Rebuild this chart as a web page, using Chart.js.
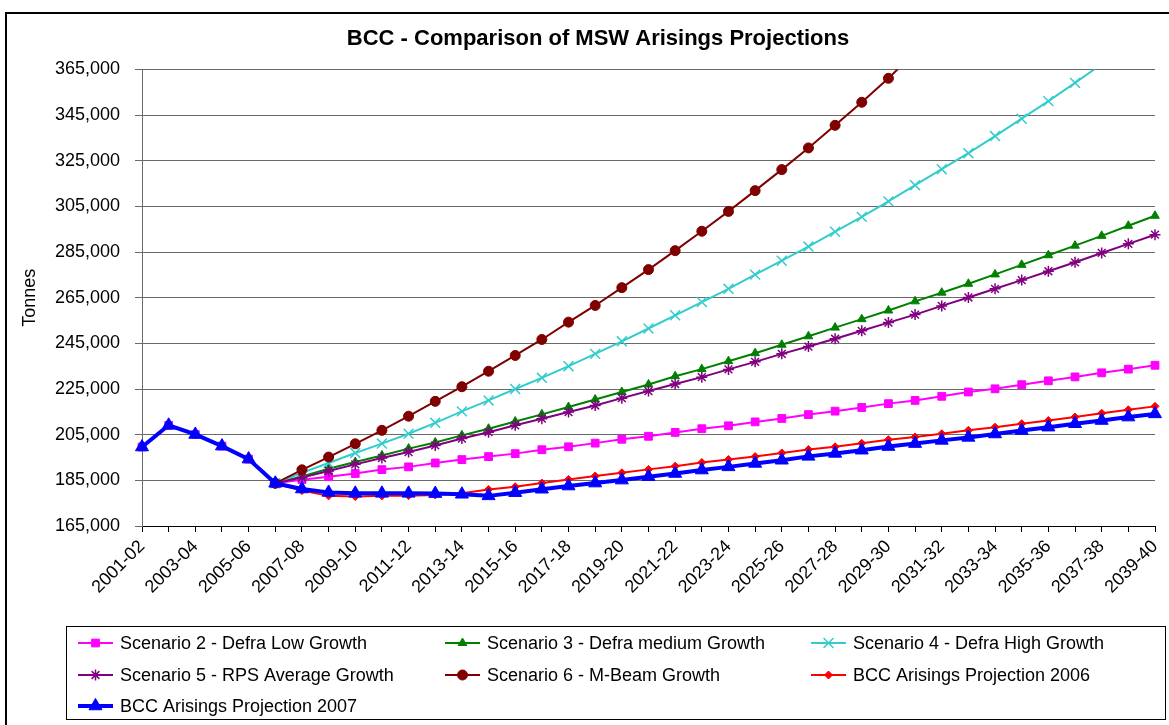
<!DOCTYPE html>
<html>
<head>
<meta charset="utf-8">
<title>BCC - Comparison of MSW Arisings Projections</title>
<script src="https://cdn.jsdelivr.net/npm/chart.js@4.4.1/dist/chart.umd.min.js"></script>
<style>
  html, body { margin: 0; padding: 0; background: #fff; }
  canvas { display: block; }
</style>
</head>
<body>
<canvas id="msw" width="1169" height="725"></canvas>
<script>
// financial years on the category axis
const years = [
  '2001-02', '2002-03', '2003-04', '2004-05', '2005-06', '2006-07', '2007-08', '2008-09',
  '2009-10', '2010-11', '2011-12', '2012-13', '2013-14', '2014-15', '2015-16', '2016-17',
  '2017-18', '2018-19', '2019-20', '2020-21', '2021-22', '2022-23', '2023-24', '2024-25',
  '2025-26', '2026-27', '2027-28', '2028-29', '2029-30', '2030-31', '2031-32', '2032-33',
  '2033-34', '2034-35', '2035-36', '2036-37', '2037-38', '2038-39', '2039-40'
];

// tonnes
const scen2Low = [
  199600, 209100, 205100, 200000, 194300, 183700, 185300, 186600, 188000, 189700,
  190900, 192600, 194100, 195400, 196700, 198400, 199700, 201300, 203000, 204300,
  206000, 207600, 208900, 210600, 212100, 213800, 215300, 216900, 218600, 220000,
  221800, 223700, 225100, 226900, 228600, 230300, 232100, 233700, 235400
];
const scen3Medium = [
  null, null, null, null, null, 183700, 186700, 190100, 193000, 195900,
  198900, 201600, 204700, 207600, 210800, 213900, 217100, 220400, 223700, 227000,
  230600, 233700, 237200, 240700, 244400, 248100, 251900, 255600, 259400, 263400,
  267200, 271100, 275200, 279400, 283600, 287800, 292100, 296500, 300900
];
const scen4High = [
  null, null, null, null, null, 183700, 188300, 192600, 197000, 201100,
  205400, 210200, 215200, 220000, 225000, 229900, 235000, 240400, 245900, 251500,
  257300, 263100, 268900, 275100, 281200, 287400, 293900, 300400, 307200, 314300,
  321300, 328300, 335800, 343400, 351100, 359100, 367300, null, null
];
const scen5Rps = [
  null, null, null, null, null, 183700, 186200, 189100, 192000, 194800,
  197400, 200300, 203300, 206100, 209100, 212000, 214900, 217800, 221000, 224100,
  227200, 230200, 233600, 236900, 240400, 243600, 247000, 250500, 254100, 257600,
  261400, 265100, 268900, 272700, 276600, 280500, 284600, 288600, 292600
];
const scen6MBeam = [
  null, null, null, null, null, 183700, 189600, 195200, 201000, 206900,
  213100, 219600, 226000, 232800, 239700, 246700, 254300, 261600, 269400, 277300,
  285600, 294100, 302800, 311900, 321100, 330600, 340500, 350600, 361100, 372500,
  null, null, null, null, null, null, null, null, null
];
const bcc2006 = [
  199600, 209100, 205100, 200000, 194300, 183700, 180500, 178200, 177900, 178200,
  178300, 178600, 179300, 181000, 182200, 183800, 185400, 186900, 188300, 189800,
  191200, 192800, 194100, 195400, 197000, 198500, 199700, 201200, 202800, 204000,
  205400, 206900, 208300, 209800, 211200, 212700, 214400, 215900, 217400
];
const bcc2007 = [
  199600, 209100, 205100, 200000, 194300, 183700, 181200, 179700, 179300, 179300,
  179300, 179200, 178900, 178200, 179600, 181100, 182500, 183800, 185100, 186600,
  188000, 189500, 190900, 192400, 193800, 195500, 196800, 198200, 199800, 201100,
  202500, 203800, 205300, 206800, 208300, 209800, 211200, 212700, 214100
];

const yMin = 165000;
const yMax = 365000;
const yStep = 20000;

const FONT = "'Liberation Sans', Arial, Helvetica, sans-serif";
Chart.defaults.font.family = FONT;
Chart.defaults.font.size = 18;
Chart.defaults.color = '#000';

function series(label, data, color, style, radius, width, order) {
  const strokeOnly = style === 'crossRot' || style === 'star';
  return {
    label,
    data,
    borderColor: color,
    backgroundColor: color,
    borderWidth: width,
    pointStyle: style,
    pointRadius: radius,
    pointHoverRadius: radius,
    pointBackgroundColor: color,
    pointBorderColor: color,
    pointBorderWidth: strokeOnly ? 1.5 : 1,
    tension: 0,
    spanGaps: false,
    order
  };
}

const datasets = [
  series('Scenario 2 - Defra Low Growth', scen2Low, '#FF00FF', 'rect', 5.5, 2, 7),
  series('Scenario 3 - Defra medium Growth', scen3Medium, '#008000', 'triangle', 5, 2, 6),
  series('Scenario 4 - Defra High Growth', scen4High, '#33CCCC', 'crossRot', 7, 2, 5),
  series('Scenario 5 - RPS Average Growth', scen5Rps, '#800080', 'star', 5.5, 2, 4),
  series('Scenario 6 - M-Beam Growth', scen6MBeam, '#800000', 'circle', 5, 2, 3),
  series('BCC Arisings Projection 2006', bcc2006, '#FF0000', 'rectRot', 4, 2, 2),
  series('BCC Arisings Projection 2007', bcc2007, '#0000FF', 'triangle', 7.5, 4, 1)
];

// white page plus the outer black frame
const framePlugin = {
  id: 'frame',
  beforeDraw(chart) {
    const ctx = chart.ctx;
    ctx.save();
    ctx.fillStyle = '#fff';
    ctx.fillRect(0, 0, chart.width, chart.height);
    ctx.strokeStyle = '#000';
    ctx.lineWidth = 2;
    ctx.strokeRect(6, 13, chart.width + 40, chart.height + 40);
    ctx.restore();
  }
};

// Excel style legend: boxed, three aligned columns
const legendSlots = [[78, 643], [445, 643], [811, 643], [78, 675], [445, 675], [811, 675], [78, 706]];

function marker(ctx, ds, x, y) {
  ctx.fillStyle = ds.pointBackgroundColor;
  ctx.strokeStyle = ds.pointBorderColor;
  ctx.lineWidth = ds.pointBorderWidth;
  if (Chart.helpers && Chart.helpers.drawPoint) {
    Chart.helpers.drawPoint(ctx, {
      pointStyle: ds.pointStyle,
      radius: ds.pointRadius,
      rotation: 0,
      borderWidth: ds.pointBorderWidth
    }, x, y);
  } else {
    ctx.beginPath();
    ctx.arc(x, y, ds.pointRadius, 0, Math.PI * 2);
    ctx.fill();
  }
}

const boxLegend = {
  id: 'boxLegend',
  afterDraw(chart) {
    const ctx = chart.ctx;
    ctx.save();
    ctx.strokeStyle = '#000';
    ctx.lineWidth = 1;
    ctx.strokeRect(66.5, 626.5, 1099, 93);
    ctx.font = '18px ' + FONT;
    ctx.textBaseline = 'middle';
    ctx.textAlign = 'left';
    chart.data.datasets.forEach((ds, i) => {
      const [x, y] = legendSlots[i];
      ctx.strokeStyle = ds.borderColor;
      ctx.lineWidth = ds.borderWidth;
      ctx.beginPath();
      ctx.moveTo(x, y);
      ctx.lineTo(x + 35, y);
      ctx.stroke();
      marker(ctx, ds, x + 17.5, y);
      ctx.fillStyle = '#000';
      ctx.fillText(ds.label, x + 42, y + 1);
    });
    ctx.restore();
  }
};

new Chart(document.getElementById('msw'), {
  type: 'line',
  data: { labels: years, datasets },
  options: {
    responsive: false,
    animation: false,
    events: [],
    layout: { padding: { left: 27, right: 0, top: 0, bottom: 109 } },
    plugins: {
      legend: { display: false },
      tooltip: { enabled: false },
      title: {
        display: true,
        text: 'BCC - Comparison of MSW Arisings Projections',
        font: { size: 22, weight: 'bold' },
        color: '#000',
        padding: { top: 26, bottom: 17 }
      }
    },
    scales: {
      x: {
        offset: false,
        grid: { drawOnChartArea: false, drawTicks: true, tickLength: 6, color: '#000' },
        border: { color: '#000', width: 1 },
        ticks: {
          autoSkip: false,
          minRotation: 45,
          maxRotation: 45,
          padding: 4,
          callback(value, index) {
            return index % 2 === 0 ? this.getLabelForValue(value) : '';
          }
        },
        afterFit(scale) {
          scale.height = 90;
          scale.paddingRight = 14;
        }
      },
      y: {
        min: yMin,
        max: yMax,
        grid: { color: '#6a6a6a', tickLength: 7 },
        border: { color: '#6a6a6a', width: 1 },
        ticks: {
          stepSize: yStep,
          padding: 15,
          callback: v => v.toLocaleString('en-US')
        },
        title: {
          display: true,
          text: 'Tonnes',
          font: { size: 18 },
          padding: { top: -8, bottom: 0 }
        },
        afterFit(scale) {
          scale.width = 115;
        }
      }
    }
  },
  plugins: [framePlugin, boxLegend]
});
</script>
</body>
</html>
